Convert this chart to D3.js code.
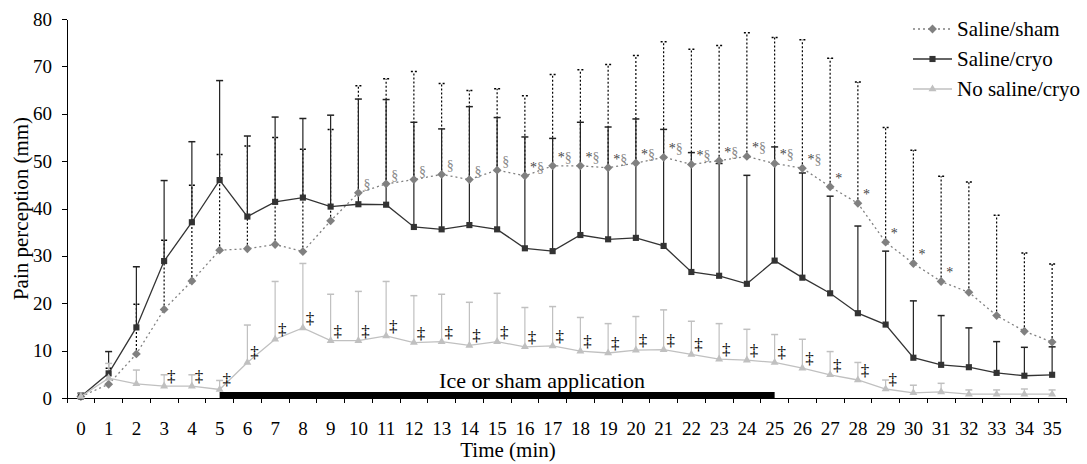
<!DOCTYPE html>
<html lang="en">
  <head>
    <meta charset="utf-8" />
    <title>Pain perception</title>
    <script src="https://d3js.org/d3.v7.min.js"></script>
    <style>
      body {
        padding: 0;
        margin: 0;
        background: #fff;
      }
      svg, svg text {
        font-family: "Liberation Serif", "Times New Roman", serif;
      }
      .axis path, .axis line {
        stroke: #000;
        shape-rendering: crispEdges;
      }
      .axis text {
        font-family: "Liberation Serif", "Times New Roman", serif;
        font-size: 19px;
        fill: #000;
      }
    </style>
  </head>
  <body>

    <svg id="chart" width="1087" height="464"></svg>

    <script>

      // categories (minutes)
      var times = ["0","1","2","3","4","5","6","7","8","9","10","11","12","13","14","15","16","17",
                   "18","19","20","21","22","23","24","25","26","27","28","29","30","31","32","33","34","35"];
      var yTicks = [0, 10, 20, 30, 40, 50, 60, 70, 80];

      // Saline/sham
      var shamMean = [0.3,2.9,9.3,18.7,24.7,31.2,31.5,32.4,30.9,37.4,43.3,45.2,46.1,47.2,46.1,48.1,46.9,49.0,
                      49.0,48.6,49.6,50.8,49.3,50.1,51.0,49.5,48.5,44.6,41.1,32.9,28.4,24.6,22.3,17.4,14.1,11.8];
      var shamSD = [0.7,3.4,10.5,14.6,20.2,20.2,21.7,22.6,21.6,19.3,22.6,22.2,22.8,19.2,18.8,17.2,16.9,19.3,
                    20.3,21.8,22.7,24.4,24.3,24.3,26.1,26.6,27.1,27.1,25.6,24.2,23.9,22.2,23.3,21.2,16.5,16.5];
      var shamMarks = ["","","","","","","","","","","§","§","§","§","§","§","*§","*§",
                       "*§","*§","*§","*§","*§","*§","*§","*§","*§","*","*","*","*","*","","","",""];

      // Saline/cryo
      var cryoMean = [0.3,5.2,14.9,28.9,37.1,46.0,38.3,41.4,42.3,40.4,40.9,40.8,36.1,35.6,36.5,35.6,31.6,31.0,
                      34.4,33.5,33.8,32.1,26.6,25.8,24.1,29.0,25.4,22.1,17.9,15.5,8.5,7.0,6.5,5.3,4.7,4.9];
      var cryoSD = [0.7,4.6,12.8,17.0,17.0,21.0,17.0,17.9,16.7,19.3,22.2,22.2,22.1,21.2,25.0,23.6,23.5,23.8,
                    23.8,23.7,25.1,24.6,25.2,23.7,22.9,24.0,22.1,20.5,18.4,15.5,12.0,10.4,8.3,6.6,6.0,5.9];

      // No saline/cryo
      var noMean = [0.3,4.2,3.0,2.5,2.5,1.8,7.5,12.4,14.8,12.1,12.1,13.1,11.7,11.9,11.1,11.9,10.8,11.0,
                    9.9,9.5,10.1,10.2,9.2,8.2,8.0,7.5,6.3,4.9,3.8,1.9,1.1,1.3,0.8,0.8,0.8,0.8];
      var noSD = [0.7,3.1,2.9,2.4,2.4,1.9,7.9,12.2,13.6,9.8,10.4,11.5,9.9,10.0,9.1,10.2,8.3,8.3,
                  7.1,6.2,7.1,8.4,7.0,7.5,6.5,5.9,6.1,4.9,3.7,1.9,1.6,1.8,0.9,0.9,1.1,0.9];
      var noMarks = ["","","","‡","‡","‡","‡","‡","‡","‡","‡","‡","‡","‡","‡","‡","‡","‡",
                     "‡","‡","‡","‡","‡","‡","‡","‡","‡","‡","‡","‡","","","","","",""];

      // ice application period
      var iceFrom = "5", iceTo = "25";
      var iceLabel = "Ice or sham application";

      var seriesNames = ["Saline/sham", "Saline/cryo", "No saline/cryo"];

      var svg = d3.select("#chart");
      var margin = {top: 19, right: 21, bottom: 66, left: 67};
      var width = 1087 - margin.left - margin.right;
      var height = 464 - margin.top - margin.bottom;

      var x = d3.scaleBand()
        .domain(times)
        .range([margin.left, margin.left + width]);
      var cx = function(t){ return x(t) + x.bandwidth() / 2; };
      var y = d3.scaleLinear()
        .domain([0, 80])
        .range([margin.top + height, margin.top]);

      var series = [
        {name: seriesNames[0], mean: shamMean, sd: shamSD, color: "#808080", dash: "2,3",
         bar: "#000", barDash: "2,2", symbol: d3.symbolDiamond2, size: 50, marks: shamMarks},
        {name: seriesNames[1], mean: cryoMean, sd: cryoSD, color: "#333333", dash: null,
         bar: "#222", barDash: null, symbol: d3.symbolSquare2, size: 48, marks: null},
        {name: seriesNames[2], mean: noMean, sd: noSD, color: "#c0c0c0", dash: null,
         bar: "#c0c0c0", barDash: null, symbol: d3.symbolTriangle2, size: 45, marks: noMarks}
      ];

      series.forEach(function(s){
        s.data = times.map(function(t, i){
          return {t: t, v: s.mean[i], sd: s.sd[i], mark: s.marks ? s.marks[i] : ""};
        });
      });

      // y axis
      svg.append("g")
        .attr("class", "axis")
        .attr("transform", "translate(" + margin.left + ",0)")
        .call(d3.axisLeft(y).tickValues(yTicks).tickSize(5).tickPadding(10).tickSizeOuter(0));

      // x axis, ticks between categories
      var xAxis = svg.append("g")
        .attr("class", "axis")
        .attr("transform", "translate(0," + (margin.top + height) + ")")
        .call(d3.axisBottom(x).tickSize(0).tickPadding(24).tickSizeOuter(0));
      xAxis.selectAll(".tick line").remove();
      xAxis.selectAll(".tickmark")
        .data(times.concat(["end"]))
        .enter()
        .append("line")
        .attr("class", "tickmark")
        .attr("x1", function(d){ return d === "end" ? x.range()[1] : x(d); })
        .attr("x2", function(d){ return d === "end" ? x.range()[1] : x(d); })
        .attr("y1", 0)
        .attr("y2", 5);

      // axis titles
      svg.append("text")
        .attr("transform", "translate(28," + (margin.top + height / 2) + ") rotate(-90)")
        .attr("text-anchor", "middle")
        .style("font-size", "21px")
        .text("Pain perception (mm)");
      svg.append("text")
        .attr("x", 508)
        .attr("y", 457)
        .attr("text-anchor", "middle")
        .style("font-size", "21px")
        .text("Time (min)");

      // ice / sham period bar
      svg.append("rect")
        .attr("x", cx(iceFrom))
        .attr("y", y(0) - 6)
        .attr("width", cx(iceTo) - cx(iceFrom))
        .attr("height", 6)
        .attr("fill", "#000");
      svg.append("text")
        .attr("x", 542)
        .attr("y", y(0) - 10)
        .attr("text-anchor", "middle")
        .style("font-size", "22px")
        .text(iceLabel);

      // error bars (upper only)
      series.forEach(function(s){
        var g = svg.append("g");
        var capW = s.barDash ? 3 : 3.5;
        g.selectAll("line.stem")
          .data(s.data)
          .enter()
          .append("line")
          .attr("x1", function(d){ return cx(d.t); })
          .attr("x2", function(d){ return cx(d.t); })
          .attr("y1", function(d){ return y(d.v); })
          .attr("y2", function(d){ return y(d.v + d.sd); })
          .attr("stroke", s.bar)
          .attr("stroke-width", 1.2)
          .attr("stroke-dasharray", s.barDash);
        g.selectAll("line.cap")
          .data(s.data)
          .enter()
          .append("line")
          .attr("x1", function(d){ return cx(d.t) - capW; })
          .attr("x2", function(d){ return cx(d.t) + capW; })
          .attr("y1", function(d){ return y(d.v + d.sd); })
          .attr("y2", function(d){ return y(d.v + d.sd); })
          .attr("stroke", s.bar)
          .attr("stroke-width", 1.5)
          .attr("stroke-dasharray", s.barDash);
      });

      // lines and markers
      var line = d3.line()
        .x(function(d){ return cx(d.t); })
        .y(function(d){ return y(d.v); });

      series.forEach(function(s){
        svg.append("path")
          .attr("d", line(s.data))
          .attr("fill", "none")
          .attr("stroke", s.color)
          .attr("stroke-width", 1.3)
          .attr("stroke-dasharray", s.dash);
        svg.append("g")
          .selectAll("path")
          .data(s.data)
          .enter()
          .append("path")
          .attr("transform", function(d){ return "translate(" + cx(d.t) + "," + y(d.v) + ")"; })
          .attr("d", d3.symbol().type(s.symbol).size(s.size))
          .attr("fill", s.color);
      });

      // significance marks
      svg.append("g")
        .selectAll("text")
        .data(series[2].data.filter(function(d){ return d.mark; }))
        .enter()
        .append("text")
        .attr("x", function(d){ return cx(d.t) + 7; })
        .attr("y", function(d){ return y(d.v) - 4; })
        .attr("text-anchor", "middle")
        .style("font-size", "17px")
        .attr("fill", "#000")
        .text(function(d){ return d.mark; });

      var shamLabels = svg.append("g")
        .selectAll("text")
        .data(series[0].data.filter(function(d){ return d.mark; }))
        .enter()
        .append("text")
        .attr("x", function(d){ return cx(d.t) + 5; })
        .attr("y", function(d){ return y(d.v) - 4; })
        .style("font-size", "14px");
      shamLabels.each(function(d){
        var txt = d3.select(this);
        d.mark.split("").forEach(function(c){
          txt.append("tspan")
            .attr("fill", c === "*" ? "#444" : "#888")
            .text(c);
        });
      });

      // legend
      var legend = svg.append("g")
        .selectAll("g")
        .data(series)
        .enter()
        .append("g")
        .attr("transform", function(d, i){ return "translate(913," + (29 + i * 30) + ")"; });
      legend.append("line")
        .attr("x1", 0)
        .attr("x2", 39)
        .attr("stroke", function(d){ return d.color; })
        .attr("stroke-width", 1.3)
        .attr("stroke-dasharray", function(d){ return d.dash; });
      legend.append("path")
        .attr("transform", "translate(19.5,0)")
        .attr("d", function(d){ return d3.symbol().type(d.symbol).size(d.size)(); })
        .attr("fill", function(d){ return d.color; });
      legend.append("text")
        .attr("x", 44)
        .attr("dy", "0.35em")
        .style("font-size", "21px")
        .text(function(d){ return d.name; });

    </script>

  </body>
</html>
